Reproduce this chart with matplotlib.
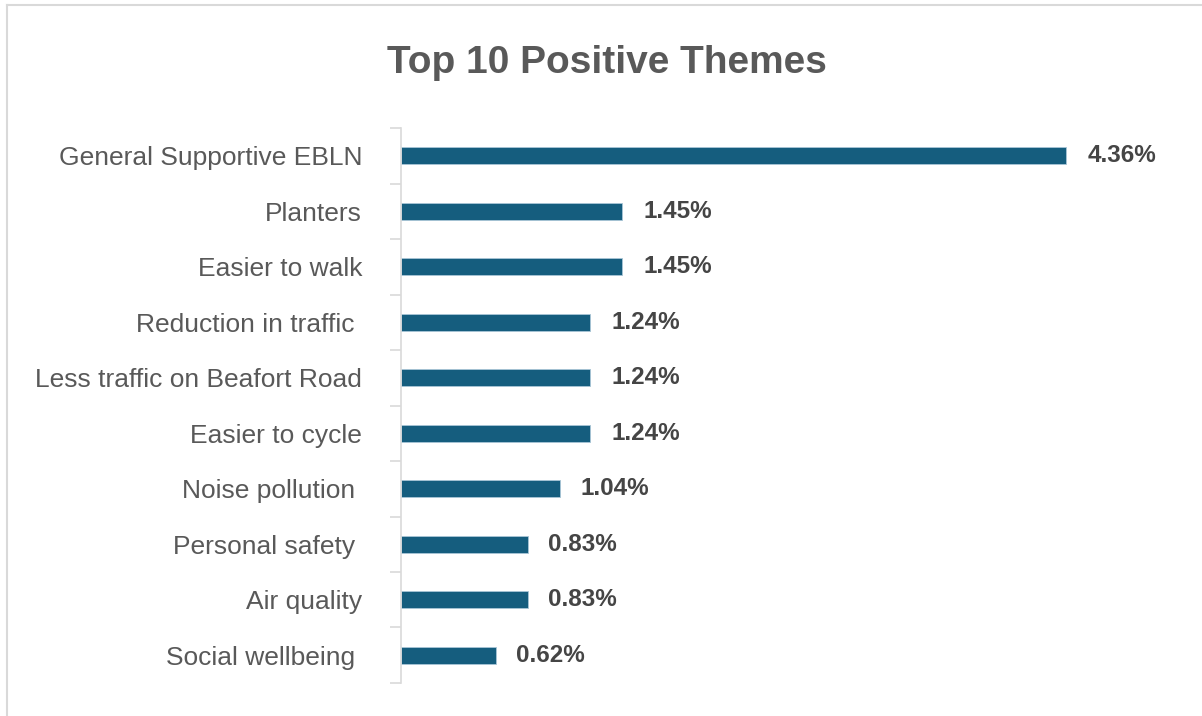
import matplotlib.pyplot as plt
from matplotlib.lines import Line2D

themes = ["General Supportive EBLN", "Planters", "Easier to walk",
          "Reduction in traffic ", "Less traffic on Beafort Road",
          "Easier to cycle", "Noise pollution ", "Personal safety ",
          "Air quality", "Social wellbeing "]
shares = [4.36, 1.45, 1.45, 1.24, 1.24, 1.24, 1.04, 0.83, 0.83, 0.62]

plt.rcParams['font.family'] = ['Liberation Sans', 'DejaVu Sans']

fig = plt.figure(figsize=(12.02, 7.16), dpi=100)
ax = fig.add_axes([0.3336, 0.0461, 0.645, 0.7751])

pos = list(range(len(themes)))
ax.barh(pos, shares, height=0.31, color='#155d7e', edgecolor='#a9c6d6', linewidth=0.6)
ax.set_ylim(len(themes) - 0.5, -0.5)
ax.set_xlim(0, 5.08)

ax.set_yticks(pos)
ax.set_yticklabels(themes, fontsize=19, color='#595959')
ax.set_yticks([p - 0.5 for p in pos] + [len(themes) - 0.5], minor=True)
ax.tick_params(axis='y', which='major', length=0, pad=28)
ax.tick_params(axis='y', which='minor', length=8, width=1.2, color='#d9d9d9')
ax.set_xticks([])

for s in ['top', 'right', 'bottom']:
    ax.spines[s].set_visible(False)
ax.spines['left'].set_color('#d9d9d9')
ax.spines['left'].set_linewidth(1.2)

for p, v in zip(pos, shares):
    ax.annotate("%.2f%%" % v, (v, p), xytext=(15, 0), textcoords='offset points',
                ha='left', va='center', fontsize=17.5, fontweight='bold', color='#454545')

fig.text(0.505, 0.898, "Top 10 Positive Themes", ha='center', va='baseline',
         fontsize=28, fontweight='bold', color='#595959')

# thin frame of the original chart area
fig.add_artist(Line2D([0.0058, 1.0], [0.993, 0.993], transform=fig.transFigure,
                      color='#d9d9d9', linewidth=1.5))
fig.add_artist(Line2D([0.0058, 0.0058], [0.0, 0.993], transform=fig.transFigure,
                      color='#d9d9d9', linewidth=1.5))

fig.savefig('out.png', dpi=100)
